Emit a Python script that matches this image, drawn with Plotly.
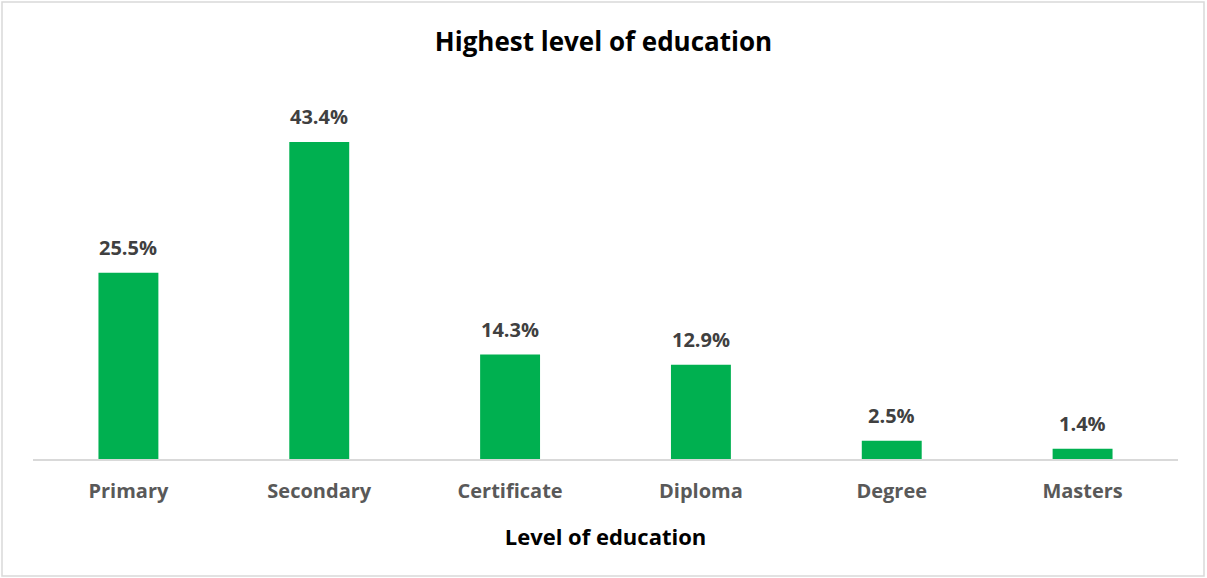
import plotly.graph_objects as go

# Share of respondents by highest level of education
levels = ["Primary", "Secondary", "Certificate", "Diploma", "Degree", "Masters"]
shares = [25.5, 43.4, 14.3, 12.9, 2.5, 1.4]
share_labels = [f"{v:.1f}%" for v in shares]

FONT = "Open Sans"
BAR_GREEN = "#00B050"

fig = go.Figure(
    go.Bar(
        x=levels,
        y=shares,
        marker=dict(color=BAR_GREEN, line=dict(width=0)),
        hoverinfo="x+y",
    )
)

# value labels above each bar
for lvl, val, lab in zip(levels, shares, share_labels):
    fig.add_annotation(
        x=lvl, y=val, text=f"<b>{lab}</b>", showarrow=False,
        yanchor="bottom", yshift=10,
        font=dict(family=FONT, size=20, color="#404040"),
    )

fig.update_layout(
    width=1207, height=578,
    margin=dict(l=33, r=29, t=80, b=119),
    paper_bgcolor="white", plot_bgcolor="white",
    bargap=0.686,
    showlegend=False,
    title=dict(
        text="<b>Highest level of education</b>",
        x=0.5, xanchor="center", y=1 - 42 / 578, yanchor="middle",
        font=dict(family=FONT, size=26, color="#000000"),
    ),
    xaxis=dict(
        showline=True, linecolor="#D9D9D9", linewidth=1.5,
        showgrid=False, ticks="outside", ticklen=0,
        ticklabelstandoff=13,
        tickfont=dict(family=FONT, size=20, color="#595959", weight="bold"),
        title=dict(text="<b>Level of education</b>", standoff=27,
                   font=dict(family=FONT, size=22, color="#000000")),
    ),
    yaxis=dict(range=[0, 51.9], visible=False, showgrid=False),
)

# light frame around the whole chart
fig.add_shape(type="rect", xref="x domain", yref="y domain",
              x0=-31 / 1145, x1=1 + 26 / 1145, y0=-117 / 379, y1=1 + 78 / 379,
              line=dict(color="#D9D9D9", width=1.5), layer="below")

fig.write_html("out.html")
